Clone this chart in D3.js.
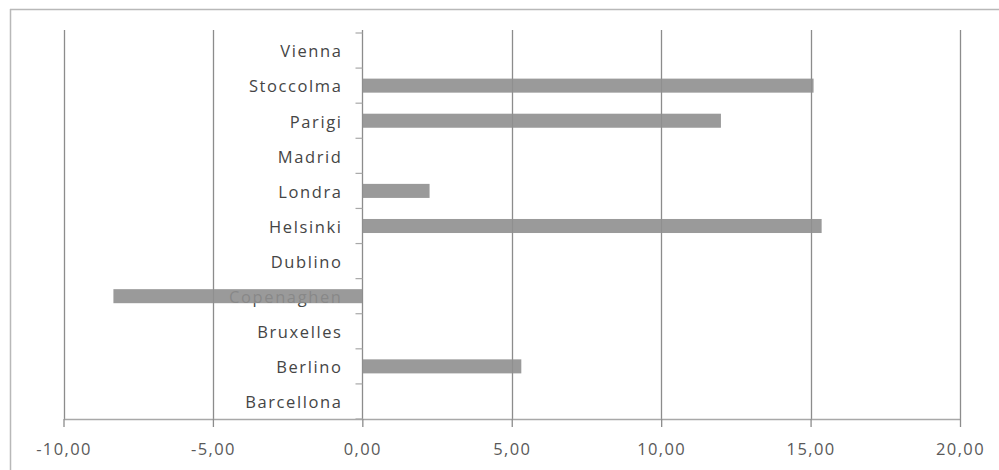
<!DOCTYPE html>
<html>
<head>
<meta charset="utf-8">
<script src="https://cdn.jsdelivr.net/npm/d3@7"></script>
<style>
html,body{margin:0;padding:0;background:#fff;}
svg{display:block;}
</style>
</head>
<body>
<svg id="chart" width="999" height="470"></svg>
<script>
const categories = ["Vienna","Stoccolma","Parigi","Madrid","Londra","Helsinki","Dublino","Copenaghen","Bruxelles","Berlino","Barcellona"];
const values = [0, 15.1, 12.0, 0, 2.25, 15.37, 0, -8.33, 0, 5.32, 0];
const xTicks = [-10, -5, 0, 5, 10, 15, 20];

(function () {
const svg = d3.select("#chart");
const W = 999, H = 470;
const pLeft = 63.5, pRight = 960, pTop = 33, pBottom = 419;

// outer frame (top and left edges visible)
svg.append("line").attr("x1", 10).attr("x2", W).attr("y1", 9.5).attr("y2", 9.5)
  .attr("stroke", "#b8b8b8").attr("stroke-width", 1.5);
svg.append("line").attr("x1", 10.5).attr("x2", 10.5).attr("y1", 9).attr("y2", H)
  .attr("stroke", "#b8b8b8").attr("stroke-width", 1.5);

const x = d3.scaleLinear().domain([-10, 20]).range([pLeft, pRight]);
const y = d3.scaleBand().domain(categories).range([pTop, pBottom]).paddingInner(0.6).paddingOuter(0.3);
const yb = d3.scaleBand().domain(categories).range([pTop, pBottom]);

// vertical gridlines
svg.append("g").selectAll("line").data(xTicks).join("line")
  .attr("x1", d => Math.round(x(d)) + 0.5).attr("x2", d => Math.round(x(d)) + 0.5)
  .attr("y1", 30).attr("y2", pBottom)
  .attr("stroke", "#8c8c8c").attr("stroke-width", 1.3);

// bottom axis
const xAxis = d3.axisBottom(x).tickValues(xTicks).tickSize(8).tickSizeOuter(0)
  .tickFormat(d => d3.format(".2f")(d).replace(".", ",").replace("−", "-"));
const gx = svg.append("g").attr("transform", `translate(0,${pBottom})`).call(xAxis);
gx.select(".domain").attr("stroke", "#a8a8a8").attr("stroke-width", 1.3);
gx.selectAll(".tick line").attr("stroke", "#8c8c8c").attr("stroke-width", 1.3);
gx.selectAll(".tick text").attr("fill", "#595959").attr("font-family", "'Open Sans', sans-serif")
  .attr("font-size", 16.5).attr("letter-spacing", 1.4).attr("dy", 0).attr("y", 36);

// category axis at zero
const x0 = Math.round(x(0)) + 0.5;
const yTicks = yb.domain().map(c => yb(c)).concat([pBottom]);
svg.append("g").selectAll("line").data(yTicks).join("line")
  .attr("x1", x0 - 7).attr("x2", x0).attr("y1", d => d).attr("y2", d => d)
  .attr("stroke", "#a8a8a8").attr("stroke-width", 1.2);

// labels
svg.append("g").selectAll("text").data(categories).join("text")
  .attr("x", x0 - 20).attr("y", d => yb(d) + yb.bandwidth() / 2 + 1)
  .attr("dy", "0.35em").attr("text-anchor", "end")
  .attr("fill", "#454545").attr("font-family", "'Open Sans', sans-serif")
  .attr("font-size", 16.5).attr("letter-spacing", 1.6)
  .text(d => d);

// bars
svg.append("g").selectAll("rect").data(categories.map((c, i) => ({c, v: values[i]})).filter(d => d.v !== 0))
  .join("rect")
  .attr("x", d => x(Math.min(0, d.v)))
  .attr("width", d => Math.abs(x(d.v) - x(0)))
  .attr("y", d => y(d.c))
  .attr("height", y.bandwidth())
  .attr("fill", "#8f8f8f").attr("fill-opacity", 0.9);
})();
</script>
</body>
</html>
